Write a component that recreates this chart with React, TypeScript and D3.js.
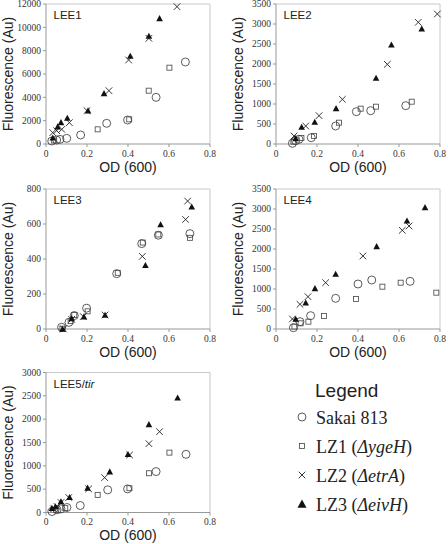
import React from "react";
import * as d3 from "d3";

// ---------- data ----------
const xTicks = [0, 0.2, 0.4, 0.6, 0.8];

const lee1Sakai = [[0.028,257],[0.052,343],[0.068,400],[0.101,486],[0.169,771],[0.296,1774],[0.398,2057],[0.537,4000],[0.68,7029]];
const lee1LZ1 = [[0.04,300],[0.252,1257],[0.406,2114],[0.501,4571],[0.602,6543]];
const lee1LZ2 = [[0.033,971],[0.052,1143],[0.077,1257],[0.114,1829],[0.2,2857],[0.307,4571],[0.403,7200],[0.502,9057],[0.639,11771]];
const lee1LZ3 = [[0.033,540],[0.057,1486],[0.073,1857],[0.104,2229],[0.205,2857],[0.283,4343],[0.411,7543],[0.502,9257],[0.554,10771]];
const lee1Ticks = [0, 2000, 4000, 6000, 8000, 10000, 12000];

const lee2Sakai = [[0.08,17],[0.096,83],[0.112,117],[0.172,158],[0.291,450],[0.392,808],[0.462,833],[0.633,958]];
const lee2LZ1 = [[0.085,58],[0.124,150],[0.185,200],[0.307,533],[0.413,883],[0.488,933],[0.662,1058]];
const lee2LZ2 = [[0.088,200],[0.145,450],[0.21,708],[0.324,1117],[0.543,1992],[0.694,3042],[0.787,3250]];
const lee2LZ3 = [[0.096,142],[0.125,425],[0.189,550],[0.293,892],[0.488,1650],[0.563,2483],[0.711,2883]];
const lee2Ticks = [0, 500, 1000, 1500, 2000, 2500, 3000, 3500];

const lee3Sakai = [[0.076,10],[0.112,38],[0.138,77],[0.198,119],[0.345,316],[0.467,488],[0.548,536],[0.702,545]];
const lee3LZ1 = [[0.08,2],[0.12,45],[0.138,80],[0.203,101],[0.35,321],[0.472,494],[0.548,540],[0.702,521]];
const lee3LZ2 = [[0.085,0],[0.125,55],[0.182,71],[0.288,80],[0.47,415],[0.681,626],[0.691,731]];
const lee3LZ3 = [[0.081,0],[0.125,61],[0.185,71],[0.288,80],[0.485,364],[0.559,597],[0.711,699]];
const lee3Ticks = [0, 200, 400, 600, 800];

const lee4Sakai = [[0.085,33],[0.117,183],[0.169,333],[0.291,767],[0.4,1125],[0.467,1225],[0.654,1192]];
const lee4LZ1 = [[0.09,60],[0.12,142],[0.158,183],[0.234,325],[0.39,750],[0.519,1058],[0.608,1158],[0.782,908]];
const lee4LZ2 = [[0.08,250],[0.117,617],[0.156,808],[0.242,1158],[0.424,1825],[0.616,2467],[0.649,2575]];
const lee4LZ3 = [[0.096,250],[0.145,658],[0.19,1017],[0.291,1375],[0.491,2067],[0.639,2708],[0.727,3042]];
const lee4Ticks = [0, 500, 1000, 1500, 2000, 2500, 3000, 3500];

const lee5Sakai = [[0.029,21],[0.054,57],[0.073,78],[0.102,107],[0.167,150],[0.301,485],[0.398,506],[0.537,877],[0.683,1247]];
const lee5LZ1 = [[0.05,57],[0.094,93],[0.252,378],[0.407,520],[0.502,841],[0.602,1283]];
const lee5LZ2 = [[0.037,78],[0.054,128],[0.073,214],[0.111,321],[0.208,506],[0.286,748],[0.408,1233],[0.502,1475],[0.554,1732]];
const lee5LZ3 = [[0.029,93],[0.046,128],[0.073,235],[0.115,328],[0.203,527],[0.311,877],[0.4,1247],[0.502,1889],[0.642,2459]];
const lee5Ticks = [0, 500, 1000, 1500, 2000, 2500, 3000];

const legendNames = ["Sakai 813", "LZ1", "LZ2", "LZ3"];
const legendGenes = ["", "ygeH", "etrA", "eivH"];

// ---------- drawing ----------
const SANS = "'Liberation Sans', Arial, sans-serif";
const SERIF = "'Liberation Serif', 'Times New Roman', serif";
const INK = "#222";

function Marker({ kind, x, y, big }: { kind: number; x: number; y: number; big?: boolean }) {
  if (kind === 0) return <circle cx={x} cy={y} r={4} fill="none" stroke="#333" strokeWidth={0.8} />;
  if (kind === 1) return <rect x={x - 2.5} y={y - 2.5} width={5} height={5} fill="none" stroke="#444" strokeWidth={0.8} />;
  if (kind === 2) {
    const s = 3.3;
    return (
      <path d={`M${x - s},${y - s}L${x + s},${y + s}M${x - s},${y + s}L${x + s},${y - s}`} stroke="#222" strokeWidth={0.9} fill="none" />
    );
  }
  const t = big ? 4.5 : 3.3;
  return <path d={`M${x},${y - t}L${x + t},${y + t * 0.85}L${x - t},${y + t * 0.85}Z`} fill="#111" />;
}

function Panel({ x0, y0, title, italic, ticks, series }: any) {
  const w = 164, h = 140;
  const xs = d3.scaleLinear().domain([0, 0.8]).range([x0, x0 + w]);
  const ys = d3.scaleLinear().domain([0, ticks[ticks.length - 1]]).range([y0 + h, y0]);
  return (
    <g>
      <line x1={x0} y1={y0} x2={x0 + w} y2={y0} stroke="#c8c8c8" strokeWidth={1} />
      <line x1={x0 + w} y1={y0} x2={x0 + w} y2={y0 + h} stroke="#c8c8c8" strokeWidth={1} />
      <line x1={x0} y1={y0} x2={x0} y2={y0 + h} stroke="#999" strokeWidth={1} />
      <line x1={x0} y1={y0 + h} x2={x0 + w} y2={y0 + h} stroke="#999" strokeWidth={1} />
      {ticks.map((t: number) => (
        <g key={"y" + t}>
          <line x1={x0 - 3} x2={x0} y1={ys(t)} y2={ys(t)} stroke="#999" />
          <text x={x0 - 5} y={ys(t) + 3.3} textAnchor="end" fontFamily={SERIF} fontSize={9.5} fill="#333">{t}</text>
        </g>
      ))}
      {xTicks.map((t) => (
        <g key={"x" + t}>
          <line x1={xs(t)} x2={xs(t)} y1={y0 + h} y2={y0 + h + 3} stroke="#999" />
          <text x={xs(t)} y={y0 + h + 12.5} textAnchor="middle" fontFamily={SERIF} fontSize={9.5} fill="#333">{t === 0 ? "0" : t.toFixed(1)}</text>
        </g>
      ))}
      <text x={x0 + w / 2} y={y0 + h + 27.5} textAnchor="middle" fontFamily={SANS} fontSize={14} fill={INK}>OD (600)</text>
      <text transform={`translate(${x0 - 33},${y0 + h / 2}) rotate(-90)`} textAnchor="middle" fontFamily={SANS} fontSize={14} fill={INK}>Fluorescence (Au)</text>
      <text x={x0 + 7.5} y={y0 + 15} fontFamily={SANS} fontSize={11.5} fill={INK}>
        {title}
        {italic ? <tspan fontStyle="italic">{italic}</tspan> : null}
      </text>
      {series.map((pts: number[][], k: number) => (
        <g key={k}>
          {pts.map((p, i) => (
            <Marker key={i} kind={k} x={xs(p[0])} y={ys(p[1])} />
          ))}
        </g>
      ))}
    </g>
  );
}

export default function App() {
  const legendY = d3.scaleLinear().domain([0, 3]).range([424, 511]);
  return (
    <svg width={448} height={544} style={{ position: "absolute", left: 0, top: 0, background: "#fff" }}>
      <rect width={448} height={544} fill="#fff" />
      <Panel x0={46} y0={4} title="LEE1" ticks={lee1Ticks} series={[lee1Sakai, lee1LZ1, lee1LZ2, lee1LZ3]} />
      <Panel x0={276} y0={4} title="LEE2" ticks={lee2Ticks} series={[lee2Sakai, lee2LZ1, lee2LZ2, lee2LZ3]} />
      <Panel x0={46} y0={189} title="LEE3" ticks={lee3Ticks} series={[lee3Sakai, lee3LZ1, lee3LZ2, lee3LZ3]} />
      <Panel x0={276} y0={189} title="LEE4" ticks={lee4Ticks} series={[lee4Sakai, lee4LZ1, lee4LZ2, lee4LZ3]} />
      <Panel x0={46} y0={372.5} title="LEE5/" italic="tir" ticks={lee5Ticks} series={[lee5Sakai, lee5LZ1, lee5LZ2, lee5LZ3]} />
      <text x={315} y={397} fontFamily={SANS} fontSize={19} fill={INK}>Legend</text>
      {legendNames.map((n, i) => (
        <g key={n}>
          <Marker kind={i} x={302} y={legendY(i) - 7} big />
          <text x={316} y={legendY(i)} fontFamily={SERIF} fontSize={18} fill={INK}>
            {n}
            {legendGenes[i] ? (
              <>
                {" ("}
                <tspan fontStyle="italic">{"Δ" + legendGenes[i]}</tspan>
                {")"}
              </>
            ) : null}
          </text>
        </g>
      ))}
    </svg>
  );
}
